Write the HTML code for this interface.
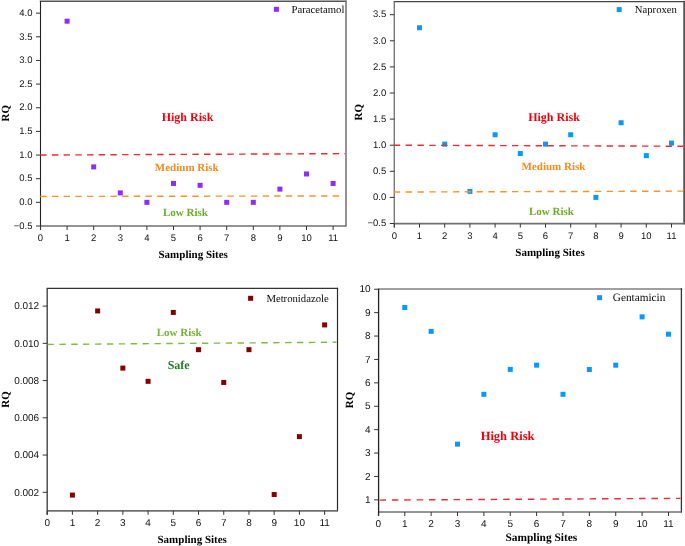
<!DOCTYPE html>
<html><head><meta charset="utf-8"><style>
html,body{margin:0;padding:0;background:#fff;}
body{width:685px;height:546px;overflow:hidden;}
svg{display:block;will-change:transform;text-rendering:geometricPrecision;}
.tk{font-family:"Liberation Sans", sans-serif;fill:#111;}
.leg{font-family:"Liberation Serif", serif;fill:#0a0a0a;}
.ann{font-family:"Liberation Serif", serif;font-weight:bold;}
.ttl{font-family:"Liberation Serif", serif;font-weight:bold;fill:#000;}
</style></head><body>
<svg width="685" height="546" viewBox="0 0 685 546">
<rect width="685" height="546" fill="#fff"/>
<line x1="40.5" y1="1.3" x2="346" y2="1.3" stroke="#555" stroke-width="1.4" stroke-linecap="square"/>
<line x1="346" y1="1.3" x2="346" y2="226" stroke="#808080" stroke-width="1.7" stroke-linecap="square"/>
<line x1="40.5" y1="226" x2="346" y2="226" stroke="#707070" stroke-width="1.7"/>
<line x1="40.5" y1="1.3" x2="40.5" y2="230" stroke="#222" stroke-width="1.1"/>
<line x1="36" y1="226" x2="40.5" y2="226" stroke="#333" stroke-width="1"/>
<text x="32.5" y="228.7" text-anchor="end" class="tk" font-size="9.5">−0.5</text>
<line x1="36" y1="202.35" x2="40.5" y2="202.35" stroke="#333" stroke-width="1"/>
<text x="32.5" y="205.05" text-anchor="end" class="tk" font-size="9.5">0.0</text>
<line x1="36" y1="178.7" x2="40.5" y2="178.7" stroke="#333" stroke-width="1"/>
<text x="32.5" y="181.4" text-anchor="end" class="tk" font-size="9.5">0.5</text>
<line x1="36" y1="155.05" x2="40.5" y2="155.05" stroke="#333" stroke-width="1"/>
<text x="32.5" y="157.75" text-anchor="end" class="tk" font-size="9.5">1.0</text>
<line x1="36" y1="131.4" x2="40.5" y2="131.4" stroke="#333" stroke-width="1"/>
<text x="32.5" y="134.1" text-anchor="end" class="tk" font-size="9.5">1.5</text>
<line x1="36" y1="107.75" x2="40.5" y2="107.75" stroke="#333" stroke-width="1"/>
<text x="32.5" y="110.45" text-anchor="end" class="tk" font-size="9.5">2.0</text>
<line x1="36" y1="84.1" x2="40.5" y2="84.1" stroke="#333" stroke-width="1"/>
<text x="32.5" y="86.8" text-anchor="end" class="tk" font-size="9.5">2.5</text>
<line x1="36" y1="60.45" x2="40.5" y2="60.45" stroke="#333" stroke-width="1"/>
<text x="32.5" y="63.15" text-anchor="end" class="tk" font-size="9.5">3.0</text>
<line x1="36" y1="36.8" x2="40.5" y2="36.8" stroke="#333" stroke-width="1"/>
<text x="32.5" y="39.5" text-anchor="end" class="tk" font-size="9.5">3.5</text>
<line x1="36" y1="13.15" x2="40.5" y2="13.15" stroke="#333" stroke-width="1"/>
<text x="32.5" y="15.85" text-anchor="end" class="tk" font-size="9.5">4.0</text>
<line x1="40.5" y1="226" x2="40.5" y2="230" stroke="#333" stroke-width="1"/>
<text x="40.5" y="241.4" text-anchor="middle" class="tk" font-size="9.5">0</text>
<line x1="67.1" y1="226" x2="67.1" y2="230" stroke="#333" stroke-width="1"/>
<text x="67.1" y="241.4" text-anchor="middle" class="tk" font-size="9.5">1</text>
<line x1="93.7" y1="226" x2="93.7" y2="230" stroke="#333" stroke-width="1"/>
<text x="93.7" y="241.4" text-anchor="middle" class="tk" font-size="9.5">2</text>
<line x1="120.3" y1="226" x2="120.3" y2="230" stroke="#333" stroke-width="1"/>
<text x="120.3" y="241.4" text-anchor="middle" class="tk" font-size="9.5">3</text>
<line x1="146.9" y1="226" x2="146.9" y2="230" stroke="#333" stroke-width="1"/>
<text x="146.9" y="241.4" text-anchor="middle" class="tk" font-size="9.5">4</text>
<line x1="173.5" y1="226" x2="173.5" y2="230" stroke="#333" stroke-width="1"/>
<text x="173.5" y="241.4" text-anchor="middle" class="tk" font-size="9.5">5</text>
<line x1="200.1" y1="226" x2="200.1" y2="230" stroke="#333" stroke-width="1"/>
<text x="200.1" y="241.4" text-anchor="middle" class="tk" font-size="9.5">6</text>
<line x1="226.7" y1="226" x2="226.7" y2="230" stroke="#333" stroke-width="1"/>
<text x="226.7" y="241.4" text-anchor="middle" class="tk" font-size="9.5">7</text>
<line x1="253.3" y1="226" x2="253.3" y2="230" stroke="#333" stroke-width="1"/>
<text x="253.3" y="241.4" text-anchor="middle" class="tk" font-size="9.5">8</text>
<line x1="279.9" y1="226" x2="279.9" y2="230" stroke="#333" stroke-width="1"/>
<text x="279.9" y="241.4" text-anchor="middle" class="tk" font-size="9.5">9</text>
<line x1="306.5" y1="226" x2="306.5" y2="230" stroke="#333" stroke-width="1"/>
<text x="306.5" y="241.4" text-anchor="middle" class="tk" font-size="9.5">10</text>
<line x1="333.1" y1="226" x2="333.1" y2="230" stroke="#333" stroke-width="1"/>
<text x="333.1" y="241.4" text-anchor="middle" class="tk" font-size="9.5">11</text>
<rect x="64.6" y="18.69" width="5" height="5" fill="#8e2cf8"/>
<rect x="91.2" y="164.38" width="5" height="5" fill="#8e2cf8"/>
<rect x="117.8" y="190.39" width="5" height="5" fill="#8e2cf8"/>
<rect x="144.4" y="199.85" width="5" height="5" fill="#8e2cf8"/>
<rect x="171" y="180.93" width="5" height="5" fill="#8e2cf8"/>
<rect x="197.6" y="182.82" width="5" height="5" fill="#8e2cf8"/>
<rect x="224.2" y="199.85" width="5" height="5" fill="#8e2cf8"/>
<rect x="250.8" y="199.85" width="5" height="5" fill="#8e2cf8"/>
<rect x="277.4" y="186.61" width="5" height="5" fill="#8e2cf8"/>
<rect x="304" y="171.47" width="5" height="5" fill="#8e2cf8"/>
<rect x="330.6" y="180.93" width="5" height="5" fill="#8e2cf8"/>
<line x1="40.2" y1="155.05" x2="345" y2="153.63" stroke="#ee2a32" stroke-width="1.4" stroke-dasharray="6.4 5.3"/>
<line x1="40.2" y1="196.44" x2="340" y2="195.96" stroke="#f7942a" stroke-width="1.4" stroke-dasharray="6.4 5.3"/>
<rect x="273.9" y="6.8" width="5" height="5" fill="#8e2cf8"/>
<text x="291.6" y="12.9" class="leg" font-size="10.7">Paracetamol</text>
<text x="187.5" y="120.5" text-anchor="middle" class="ann" fill="#f2000c" font-size="12">High Risk</text>
<text x="186.8" y="170.9" text-anchor="middle" class="ann" fill="#f98a1c" font-size="11">Medium Risk</text>
<text x="185.5" y="216" text-anchor="middle" class="ann" fill="#6eab2c" font-size="11">Low Risk</text>
<text x="9.3" y="113.3" transform="rotate(-90 9.3 113.3)" text-anchor="middle" class="ttl" font-size="11">RQ</text>
<text x="193.2" y="258.4" text-anchor="middle" class="ttl" font-size="11">Sampling Sites</text>
<line x1="394.3" y1="1.6" x2="684.2" y2="1.6" stroke="#444" stroke-width="1.3" stroke-linecap="square"/>
<line x1="684.2" y1="1.6" x2="684.2" y2="223.6" stroke="#555" stroke-width="1.9" stroke-linecap="square"/>
<line x1="394.3" y1="223.6" x2="684.2" y2="223.6" stroke="#707070" stroke-width="1.7"/>
<line x1="394.3" y1="1.6" x2="394.3" y2="227.6" stroke="#7a7a7a" stroke-width="1.4"/>
<line x1="389.8" y1="223.5" x2="394.3" y2="223.5" stroke="#333" stroke-width="1"/>
<text x="386.3" y="226.2" text-anchor="end" class="tk" font-size="9.5">−0.5</text>
<line x1="389.8" y1="197.4" x2="394.3" y2="197.4" stroke="#333" stroke-width="1"/>
<text x="386.3" y="200.1" text-anchor="end" class="tk" font-size="9.5">0.0</text>
<line x1="389.8" y1="171.3" x2="394.3" y2="171.3" stroke="#333" stroke-width="1"/>
<text x="386.3" y="174" text-anchor="end" class="tk" font-size="9.5">0.5</text>
<line x1="389.8" y1="145.2" x2="394.3" y2="145.2" stroke="#333" stroke-width="1"/>
<text x="386.3" y="147.9" text-anchor="end" class="tk" font-size="9.5">1.0</text>
<line x1="389.8" y1="119.1" x2="394.3" y2="119.1" stroke="#333" stroke-width="1"/>
<text x="386.3" y="121.8" text-anchor="end" class="tk" font-size="9.5">1.5</text>
<line x1="389.8" y1="93" x2="394.3" y2="93" stroke="#333" stroke-width="1"/>
<text x="386.3" y="95.7" text-anchor="end" class="tk" font-size="9.5">2.0</text>
<line x1="389.8" y1="66.9" x2="394.3" y2="66.9" stroke="#333" stroke-width="1"/>
<text x="386.3" y="69.6" text-anchor="end" class="tk" font-size="9.5">2.5</text>
<line x1="389.8" y1="40.8" x2="394.3" y2="40.8" stroke="#333" stroke-width="1"/>
<text x="386.3" y="43.5" text-anchor="end" class="tk" font-size="9.5">3.0</text>
<line x1="389.8" y1="14.7" x2="394.3" y2="14.7" stroke="#333" stroke-width="1"/>
<text x="386.3" y="17.4" text-anchor="end" class="tk" font-size="9.5">3.5</text>
<line x1="394.3" y1="223.6" x2="394.3" y2="227.6" stroke="#333" stroke-width="1"/>
<text x="394.3" y="239" text-anchor="middle" class="tk" font-size="9.5">0</text>
<line x1="419.5" y1="223.6" x2="419.5" y2="227.6" stroke="#333" stroke-width="1"/>
<text x="419.5" y="239" text-anchor="middle" class="tk" font-size="9.5">1</text>
<line x1="444.7" y1="223.6" x2="444.7" y2="227.6" stroke="#333" stroke-width="1"/>
<text x="444.7" y="239" text-anchor="middle" class="tk" font-size="9.5">2</text>
<line x1="469.9" y1="223.6" x2="469.9" y2="227.6" stroke="#333" stroke-width="1"/>
<text x="469.9" y="239" text-anchor="middle" class="tk" font-size="9.5">3</text>
<line x1="495.1" y1="223.6" x2="495.1" y2="227.6" stroke="#333" stroke-width="1"/>
<text x="495.1" y="239" text-anchor="middle" class="tk" font-size="9.5">4</text>
<line x1="520.3" y1="223.6" x2="520.3" y2="227.6" stroke="#333" stroke-width="1"/>
<text x="520.3" y="239" text-anchor="middle" class="tk" font-size="9.5">5</text>
<line x1="545.5" y1="223.6" x2="545.5" y2="227.6" stroke="#333" stroke-width="1"/>
<text x="545.5" y="239" text-anchor="middle" class="tk" font-size="9.5">6</text>
<line x1="570.7" y1="223.6" x2="570.7" y2="227.6" stroke="#333" stroke-width="1"/>
<text x="570.7" y="239" text-anchor="middle" class="tk" font-size="9.5">7</text>
<line x1="595.9" y1="223.6" x2="595.9" y2="227.6" stroke="#333" stroke-width="1"/>
<text x="595.9" y="239" text-anchor="middle" class="tk" font-size="9.5">8</text>
<line x1="621.1" y1="223.6" x2="621.1" y2="227.6" stroke="#333" stroke-width="1"/>
<text x="621.1" y="239" text-anchor="middle" class="tk" font-size="9.5">9</text>
<line x1="646.3" y1="223.6" x2="646.3" y2="227.6" stroke="#333" stroke-width="1"/>
<text x="646.3" y="239" text-anchor="middle" class="tk" font-size="9.5">10</text>
<line x1="671.5" y1="223.6" x2="671.5" y2="227.6" stroke="#333" stroke-width="1"/>
<text x="671.5" y="239" text-anchor="middle" class="tk" font-size="9.5">11</text>
<rect x="417" y="25.25" width="5" height="5" fill="#0a98fb"/>
<rect x="442.2" y="141.66" width="5" height="5" fill="#0a98fb"/>
<rect x="467.4" y="188.9" width="5" height="5" fill="#0a98fb"/>
<rect x="492.6" y="132.26" width="5" height="5" fill="#0a98fb"/>
<rect x="517.8" y="151.05" width="5" height="5" fill="#0a98fb"/>
<rect x="543" y="141.66" width="5" height="5" fill="#0a98fb"/>
<rect x="568.2" y="132.26" width="5" height="5" fill="#0a98fb"/>
<rect x="593.4" y="194.9" width="5" height="5" fill="#0a98fb"/>
<rect x="618.6" y="120.25" width="5" height="5" fill="#0a98fb"/>
<rect x="643.8" y="153.14" width="5" height="5" fill="#0a98fb"/>
<rect x="669" y="140.61" width="5" height="5" fill="#0a98fb"/>
<line x1="393.8" y1="145.2" x2="683.2" y2="146.24" stroke="#ee2a32" stroke-width="1.4" stroke-dasharray="6.4 5.42"/>
<line x1="393.8" y1="192.02" x2="683.2" y2="191.14" stroke="#f7942a" stroke-width="1.4" stroke-dasharray="6.4 5.42"/>
<rect x="616.7" y="7.1" width="5" height="5" fill="#0a98fb"/>
<text x="634.8" y="13.2" class="leg" font-size="10.7">Naproxen</text>
<text x="554" y="121" text-anchor="middle" class="ann" fill="#f2000c" font-size="12">High Risk</text>
<text x="553.5" y="170" text-anchor="middle" class="ann" fill="#f98a1c" font-size="11">Medium Risk</text>
<text x="551.5" y="214.6" text-anchor="middle" class="ann" fill="#6eab2c" font-size="11">Low Risk</text>
<text x="362.5" y="112.3" transform="rotate(-90 362.5 112.3)" text-anchor="middle" class="ttl" font-size="11">RQ</text>
<text x="550" y="255.8" text-anchor="middle" class="ttl" font-size="11">Sampling Sites</text>
<line x1="47.2" y1="288.4" x2="337.5" y2="288.4" stroke="#333" stroke-width="1.2" stroke-linecap="square"/>
<line x1="337.5" y1="288.4" x2="337.5" y2="510.8" stroke="#2a2a2a" stroke-width="1.2" stroke-linecap="square"/>
<line x1="47.2" y1="510.8" x2="337.5" y2="510.8" stroke="#707070" stroke-width="1.7"/>
<line x1="47.2" y1="288.4" x2="47.2" y2="514.8" stroke="#444" stroke-width="1.4"/>
<line x1="42.7" y1="492.3" x2="47.2" y2="492.3" stroke="#333" stroke-width="1"/>
<text x="39.2" y="495.5" text-anchor="end" class="tk" font-size="10">0.002</text>
<line x1="42.7" y1="455.06" x2="47.2" y2="455.06" stroke="#333" stroke-width="1"/>
<text x="39.2" y="458.26" text-anchor="end" class="tk" font-size="10">0.004</text>
<line x1="42.7" y1="417.82" x2="47.2" y2="417.82" stroke="#333" stroke-width="1"/>
<text x="39.2" y="421.02" text-anchor="end" class="tk" font-size="10">0.006</text>
<line x1="42.7" y1="380.58" x2="47.2" y2="380.58" stroke="#333" stroke-width="1"/>
<text x="39.2" y="383.78" text-anchor="end" class="tk" font-size="10">0.008</text>
<line x1="42.7" y1="343.34" x2="47.2" y2="343.34" stroke="#333" stroke-width="1"/>
<text x="39.2" y="346.54" text-anchor="end" class="tk" font-size="10">0.010</text>
<line x1="42.7" y1="306.1" x2="47.2" y2="306.1" stroke="#333" stroke-width="1"/>
<text x="39.2" y="309.3" text-anchor="end" class="tk" font-size="10">0.012</text>
<line x1="47.2" y1="510.8" x2="47.2" y2="514.8" stroke="#333" stroke-width="1"/>
<text x="47.2" y="526.2" text-anchor="middle" class="tk" font-size="10">0</text>
<line x1="72.42" y1="510.8" x2="72.42" y2="514.8" stroke="#333" stroke-width="1"/>
<text x="72.42" y="526.2" text-anchor="middle" class="tk" font-size="10">1</text>
<line x1="97.64" y1="510.8" x2="97.64" y2="514.8" stroke="#333" stroke-width="1"/>
<text x="97.64" y="526.2" text-anchor="middle" class="tk" font-size="10">2</text>
<line x1="122.86" y1="510.8" x2="122.86" y2="514.8" stroke="#333" stroke-width="1"/>
<text x="122.86" y="526.2" text-anchor="middle" class="tk" font-size="10">3</text>
<line x1="148.08" y1="510.8" x2="148.08" y2="514.8" stroke="#333" stroke-width="1"/>
<text x="148.08" y="526.2" text-anchor="middle" class="tk" font-size="10">4</text>
<line x1="173.3" y1="510.8" x2="173.3" y2="514.8" stroke="#333" stroke-width="1"/>
<text x="173.3" y="526.2" text-anchor="middle" class="tk" font-size="10">5</text>
<line x1="198.52" y1="510.8" x2="198.52" y2="514.8" stroke="#333" stroke-width="1"/>
<text x="198.52" y="526.2" text-anchor="middle" class="tk" font-size="10">6</text>
<line x1="223.74" y1="510.8" x2="223.74" y2="514.8" stroke="#333" stroke-width="1"/>
<text x="223.74" y="526.2" text-anchor="middle" class="tk" font-size="10">7</text>
<line x1="248.96" y1="510.8" x2="248.96" y2="514.8" stroke="#333" stroke-width="1"/>
<text x="248.96" y="526.2" text-anchor="middle" class="tk" font-size="10">8</text>
<line x1="274.18" y1="510.8" x2="274.18" y2="514.8" stroke="#333" stroke-width="1"/>
<text x="274.18" y="526.2" text-anchor="middle" class="tk" font-size="10">9</text>
<line x1="299.4" y1="510.8" x2="299.4" y2="514.8" stroke="#333" stroke-width="1"/>
<text x="299.4" y="526.2" text-anchor="middle" class="tk" font-size="10">10</text>
<line x1="324.62" y1="510.8" x2="324.62" y2="514.8" stroke="#333" stroke-width="1"/>
<text x="324.62" y="526.2" text-anchor="middle" class="tk" font-size="10">11</text>
<rect x="69.92" y="492.59" width="5" height="5" fill="#840000"/>
<rect x="95.14" y="308.44" width="5" height="5" fill="#840000"/>
<rect x="120.36" y="365.6" width="5" height="5" fill="#840000"/>
<rect x="145.58" y="378.82" width="5" height="5" fill="#840000"/>
<rect x="170.8" y="309.93" width="5" height="5" fill="#840000"/>
<rect x="196.02" y="347.17" width="5" height="5" fill="#840000"/>
<rect x="221.24" y="379.94" width="5" height="5" fill="#840000"/>
<rect x="246.46" y="347.17" width="5" height="5" fill="#840000"/>
<rect x="271.68" y="492.03" width="5" height="5" fill="#840000"/>
<rect x="296.9" y="434.13" width="5" height="5" fill="#840000"/>
<rect x="322.12" y="322.41" width="5" height="5" fill="#840000"/>
<line x1="47.5" y1="344.46" x2="336.5" y2="342.22" stroke="#7fba45" stroke-width="1.4" stroke-dasharray="6.4 5.48"/>
<rect x="248.1" y="295.8" width="5" height="5" fill="#840000"/>
<text x="266.4" y="301.6" class="leg" font-size="10.7">Metronidazole</text>
<text x="179.2" y="335.9" text-anchor="middle" class="ann" fill="#76b13a" font-size="11">Low Risk</text>
<text x="178.7" y="368.9" text-anchor="middle" class="ann" fill="#207a20" font-size="12">Safe</text>
<text x="9.4" y="399.5" transform="rotate(-90 9.4 399.5)" text-anchor="middle" class="ttl" font-size="11">RQ</text>
<text x="192.2" y="542.5" text-anchor="middle" class="ttl" font-size="11">Sampling Sites</text>
<line x1="378.6" y1="288.9" x2="681.4" y2="288.9" stroke="#808080" stroke-width="1.5" stroke-linecap="square"/>
<line x1="681.4" y1="288.9" x2="681.4" y2="512" stroke="#333" stroke-width="1.3" stroke-linecap="square"/>
<line x1="378.6" y1="512" x2="681.4" y2="512" stroke="#707070" stroke-width="1.7"/>
<line x1="378.6" y1="288.9" x2="378.6" y2="516" stroke="#222" stroke-width="1.3"/>
<line x1="374.1" y1="499.85" x2="378.6" y2="499.85" stroke="#333" stroke-width="1"/>
<text x="370.6" y="503.05" text-anchor="end" class="tk" font-size="10">1</text>
<line x1="374.1" y1="476.45" x2="378.6" y2="476.45" stroke="#333" stroke-width="1"/>
<text x="370.6" y="479.65" text-anchor="end" class="tk" font-size="10">2</text>
<line x1="374.1" y1="453.05" x2="378.6" y2="453.05" stroke="#333" stroke-width="1"/>
<text x="370.6" y="456.25" text-anchor="end" class="tk" font-size="10">3</text>
<line x1="374.1" y1="429.65" x2="378.6" y2="429.65" stroke="#333" stroke-width="1"/>
<text x="370.6" y="432.85" text-anchor="end" class="tk" font-size="10">4</text>
<line x1="374.1" y1="406.25" x2="378.6" y2="406.25" stroke="#333" stroke-width="1"/>
<text x="370.6" y="409.45" text-anchor="end" class="tk" font-size="10">5</text>
<line x1="374.1" y1="382.85" x2="378.6" y2="382.85" stroke="#333" stroke-width="1"/>
<text x="370.6" y="386.05" text-anchor="end" class="tk" font-size="10">6</text>
<line x1="374.1" y1="359.45" x2="378.6" y2="359.45" stroke="#333" stroke-width="1"/>
<text x="370.6" y="362.65" text-anchor="end" class="tk" font-size="10">7</text>
<line x1="374.1" y1="336.05" x2="378.6" y2="336.05" stroke="#333" stroke-width="1"/>
<text x="370.6" y="339.25" text-anchor="end" class="tk" font-size="10">8</text>
<line x1="374.1" y1="312.65" x2="378.6" y2="312.65" stroke="#333" stroke-width="1"/>
<text x="370.6" y="315.85" text-anchor="end" class="tk" font-size="10">9</text>
<line x1="374.1" y1="289.25" x2="378.6" y2="289.25" stroke="#333" stroke-width="1"/>
<text x="370.6" y="292.45" text-anchor="end" class="tk" font-size="10">10</text>
<line x1="378.4" y1="512" x2="378.4" y2="516" stroke="#333" stroke-width="1"/>
<text x="378.4" y="527.4" text-anchor="middle" class="tk" font-size="10">0</text>
<line x1="404.77" y1="512" x2="404.77" y2="516" stroke="#333" stroke-width="1"/>
<text x="404.77" y="527.4" text-anchor="middle" class="tk" font-size="10">1</text>
<line x1="431.14" y1="512" x2="431.14" y2="516" stroke="#333" stroke-width="1"/>
<text x="431.14" y="527.4" text-anchor="middle" class="tk" font-size="10">2</text>
<line x1="457.51" y1="512" x2="457.51" y2="516" stroke="#333" stroke-width="1"/>
<text x="457.51" y="527.4" text-anchor="middle" class="tk" font-size="10">3</text>
<line x1="483.88" y1="512" x2="483.88" y2="516" stroke="#333" stroke-width="1"/>
<text x="483.88" y="527.4" text-anchor="middle" class="tk" font-size="10">4</text>
<line x1="510.25" y1="512" x2="510.25" y2="516" stroke="#333" stroke-width="1"/>
<text x="510.25" y="527.4" text-anchor="middle" class="tk" font-size="10">5</text>
<line x1="536.62" y1="512" x2="536.62" y2="516" stroke="#333" stroke-width="1"/>
<text x="536.62" y="527.4" text-anchor="middle" class="tk" font-size="10">6</text>
<line x1="562.99" y1="512" x2="562.99" y2="516" stroke="#333" stroke-width="1"/>
<text x="562.99" y="527.4" text-anchor="middle" class="tk" font-size="10">7</text>
<line x1="589.36" y1="512" x2="589.36" y2="516" stroke="#333" stroke-width="1"/>
<text x="589.36" y="527.4" text-anchor="middle" class="tk" font-size="10">8</text>
<line x1="615.73" y1="512" x2="615.73" y2="516" stroke="#333" stroke-width="1"/>
<text x="615.73" y="527.4" text-anchor="middle" class="tk" font-size="10">9</text>
<line x1="642.1" y1="512" x2="642.1" y2="516" stroke="#333" stroke-width="1"/>
<text x="642.1" y="527.4" text-anchor="middle" class="tk" font-size="10">10</text>
<line x1="668.47" y1="512" x2="668.47" y2="516" stroke="#333" stroke-width="1"/>
<text x="668.47" y="527.4" text-anchor="middle" class="tk" font-size="10">11</text>
<rect x="402.27" y="305" width="5" height="5" fill="#0a98fb"/>
<rect x="428.64" y="328.87" width="5" height="5" fill="#0a98fb"/>
<rect x="455.01" y="441.66" width="5" height="5" fill="#0a98fb"/>
<rect x="481.38" y="391.82" width="5" height="5" fill="#0a98fb"/>
<rect x="507.75" y="366.9" width="5" height="5" fill="#0a98fb"/>
<rect x="534.12" y="362.68" width="5" height="5" fill="#0a98fb"/>
<rect x="560.49" y="391.82" width="5" height="5" fill="#0a98fb"/>
<rect x="586.86" y="367.01" width="5" height="5" fill="#0a98fb"/>
<rect x="613.23" y="362.68" width="5" height="5" fill="#0a98fb"/>
<rect x="639.6" y="314.36" width="5" height="5" fill="#0a98fb"/>
<rect x="665.97" y="331.68" width="5" height="5" fill="#0a98fb"/>
<line x1="379.5" y1="500.08" x2="680.4" y2="498.33" stroke="#ee2a32" stroke-width="1.4" stroke-dasharray="6.5 5.86"/>
<rect x="597.1" y="295.2" width="5" height="5" fill="#0a98fb"/>
<text x="612.8" y="301.3" class="leg" font-size="11.25">Gentamicin</text>
<text x="507.6" y="439.6" text-anchor="middle" class="ann" fill="#f2000c" font-size="12.5">High Risk</text>
<text x="353.2" y="400" transform="rotate(-90 353.2 400)" text-anchor="middle" class="ttl" font-size="11">RQ</text>
<text x="541.3" y="541.4" text-anchor="middle" class="ttl" font-size="11.4">Sampling Sites</text>
</svg>
</body></html>
